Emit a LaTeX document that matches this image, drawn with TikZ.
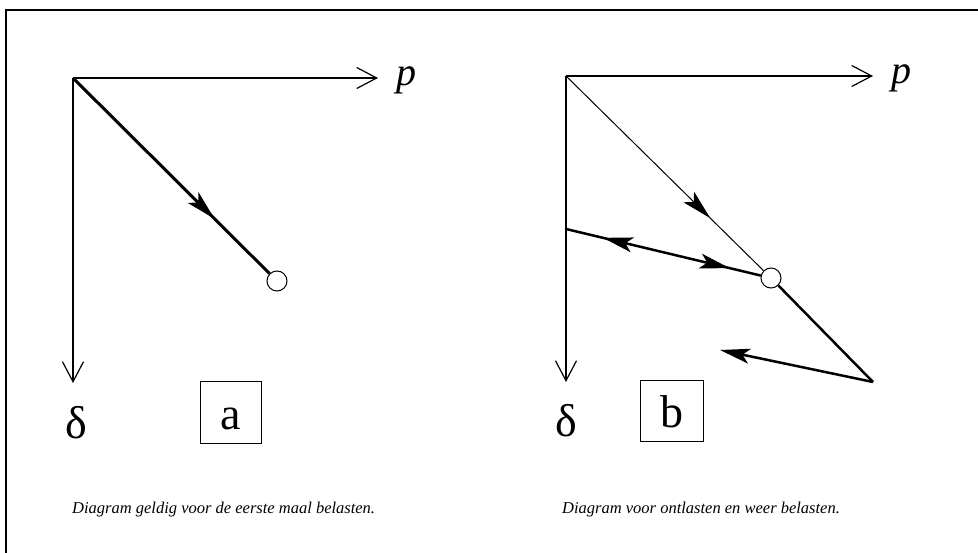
\documentclass[tikz,border=0pt]{standalone}
\usepackage{fontspec}
\setmainfont{Liberation Serif}
\usetikzlibrary{arrows.meta,decorations.markings}

\begin{document}
\begin{tikzpicture}[
  x=1pt, y=-1pt,
  axis/.style={line width=1.2pt, -{Straight Barb[length=20pt,width=21pt]}},
  load/.style={line width=3pt},
  unload/.style={line width=2.5pt},
  thinload/.style={line width=1pt},
  ring/.style={circle, draw, fill=white, line width=1pt, minimum size=20pt, inner sep=0pt},
  panel/.style={rectangle, draw, line width=1pt, minimum width=61pt, minimum height=62pt,
                inner sep=0pt, text height=33pt, text depth=0pt, font=\fontsize{46}{50}\selectfont},
  axislabel/.style={inner sep=0pt, font=\fontsize{40}{44}\selectfont\itshape},
  dlabel/.style={inner sep=0pt, font=\fontsize{46}{50}\selectfont},
  caption/.style={anchor=west, inner sep=0pt, font=\fontsize{16.5}{20}\selectfont\itshape},
  midtip/.style={postaction={decorate}, decoration={markings,
      mark=at position #1 with {\arrow{Stealth[length=30pt,width=15pt,inset=7pt]}}}}
]
  \useasboundingbox (0,0) rectangle (978,553);
  % frame
  \draw[line width=2pt] (6,553) -- (6,10) -- (978,10);

  % diagram a: first loading
  \coordinate (oa) at (73,78);
  \coordinate (pa) at (378,78);
  \coordinate (da) at (73,383);
  \node[ring] (ca) at (277,281) {};
  \node[axislabel] (plabela) at (406,80) {p};
  \node[dlabel] (dlabela) at (76,423) {δ};
  \node[panel] (boxa) at (230.5,412.5) {a};

  \draw[axis] (oa) -- (pa);
  \draw[axis] (oa) -- (da);
  \draw[load, midtip=0.72] (oa) -- (ca);

  % diagram b: unloading and reloading
  \coordinate (ob) at (566,76);
  \coordinate (pb) at (873,76);
  \coordinate (db) at (566,382);
  \coordinate (mb) at (566,229);
  \coordinate (fb) at (873,382);
  \coordinate (rb) at (720,350);
  \node[ring] (cb) at (771,278) {};
  \node[axislabel] (plabelb) at (901,78) {p};
  \node[dlabel] (dlabelb) at (566,421) {δ};
  \node[panel, minimum width=63pt, minimum height=61pt] (boxb) at (671.5,411.5) {b};

  \draw[axis] (ob) -- (pb);
  \draw[axis] (ob) -- (db);
  \draw[thinload, midtip=0.73] (ob) -- (cb);
  \draw[unload, postaction={decorate}, decoration={markings,
      mark=at position 0.19 with {\arrowreversed{Stealth[length=30pt,width=15pt,inset=7pt]}},
      mark=at position 0.84 with {\arrow{Stealth[length=30pt,width=15pt,inset=7pt]}}}] (mb) -- (cb);
  \draw[unload] (cb) -- (fb);
  \draw[unload, -{Stealth[length=30pt,width=15pt,inset=7pt]}] (fb) -- (rb);

  % captions
  \node[caption] (capa) at (72,510) {Diagram geldig voor de eerste maal belasten.};
  \node[caption] (capb) at (562,510) {Diagram voor ontlasten en weer belasten.};
\end{tikzpicture}
\end{document}
